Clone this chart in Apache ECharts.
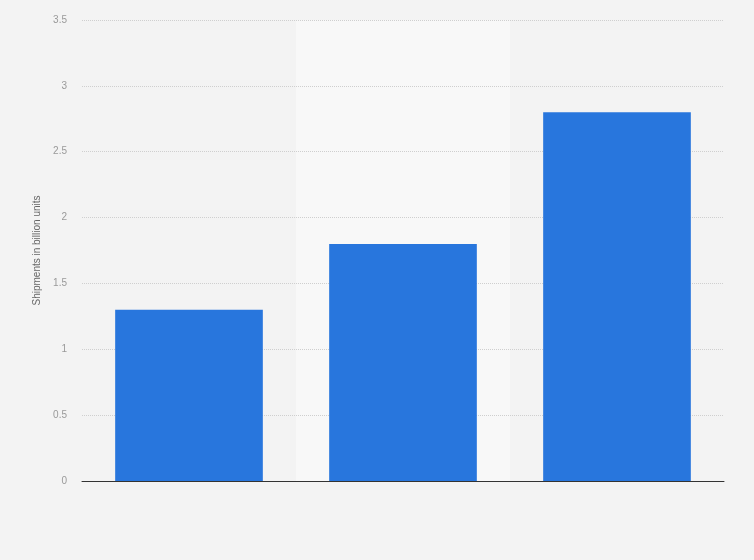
<!DOCTYPE html>
<html><head><meta charset="utf-8">
<script src="https://cdn.jsdelivr.net/npm/echarts@6/dist/echarts.min.js"></script>
<style>html,body{margin:0;padding:0;background:#f3f3f3}#c{width:754px;height:560px}</style>
</head><body><div id="c"></div>
<script>
const categories = ['A', 'B', 'C'];
const shipments = [1.3, 1.8, 2.8];
const yTicks = { min: 0, max: 3.5, interval: 0.5 };

const chart = echarts.init(document.getElementById('c'));
chart.setOption({
  backgroundColor: '#f3f3f3',
  animation: false,
  grid: { left: 82, right: 30, top: 20, bottom: 79 },
  xAxis: [{
    type: 'category',
    data: categories,
    z: 0,
    axisLine: { show: false },
    axisTick: { show: false },
    axisLabel: { show: false },
    splitArea: { show: true, areaStyle: { color: ['rgba(0,0,0,0)', '#f8f8f8'] } }
  }, {
    type: 'category',
    data: categories,
    position: 'bottom',
    z: 5,
    axisLine: { show: true, lineStyle: { color: '#333', width: 1 } },
    axisTick: { show: false },
    axisLabel: { show: false },
    splitLine: { show: false },
    splitArea: { show: false }
  }],
  yAxis: {
    type: 'value',
    z: 1,
    min: yTicks.min, max: yTicks.max, interval: yTicks.interval,
    name: 'Shipments in billion units',
    nameLocation: 'middle',
    nameGap: 31,
    nameTextStyle: { color: '#666', fontSize: 10, fontFamily: 'Arial, Liberation Sans' },
    axisLine: { show: false },
    axisTick: { show: false },
    axisLabel: { color: '#999', fontSize: 10, margin: 15, fontFamily: 'Arial, Liberation Sans' },
    splitLine: { lineStyle: { color: '#cfcfcf', type: [1, 1] } }
  },
  series: [{
    type: 'bar',
    data: shipments,
    xAxisIndex: 0,
    z: 2,
    barWidth: '69%',
    itemStyle: { color: '#2876dd' }
  }]
});
</script></body></html>
